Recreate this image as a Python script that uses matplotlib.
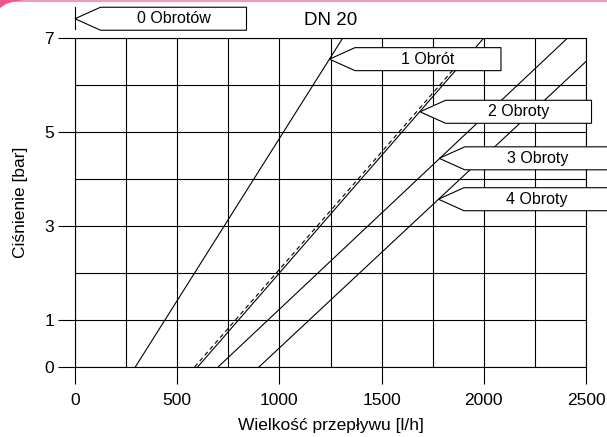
import matplotlib
matplotlib.use("Agg")
import matplotlib.pyplot as plt
from matplotlib.patches import Polygon, Rectangle

plt.rcParams['font.family'] = ['Liberation Sans', 'DejaVu Sans']

# curves (flow l/h vs pressure bar)
flow_1 = [295, 1310]
pres_1 = [0, 7]
flow_2 = [600, 2000]
pres_2 = [0, 7]
flow_2_dash = [585, 1885]
pres_2_dash = [0, 6.5]
flow_3 = [700, 2410]
pres_3 = [0, 7]
flow_4 = [900, 2500]
pres_4 = [0, 6.5]

label_texts = ['0 Obrotów', '1 Obrót', '2 Obroty', '3 Obroty', '4 Obroty']
label_flow = [0, 1245, 1688, 1782, 1778]
label_pres = [7.41, 6.55, 5.43, 4.44, 3.57]

x_ticks = [0, 500, 1000, 1500, 2000, 2500]
x_minor = [250, 750, 1250, 1750, 2250]
y_ticks = [0, 1, 3, 5, 7]
y_minor = [2, 4, 6]

fig = plt.figure(figsize=(6.07, 4.37), dpi=100)
ax = fig.add_axes([75 / 607, 70 / 437, 511 / 607, 329 / 437])

ax.set_xlim(0, 2500)
ax.set_ylim(0, 7)
ax.set_xticks(x_ticks)
ax.set_xticks(x_minor, minor=True)
ax.set_yticks(y_ticks)
ax.set_yticks(y_minor, minor=True)
ax.tick_params(which='major', direction='out', length=12, width=0.8,
               labelsize=12.5, color='black')
ax.tick_params(axis='x', which='major', pad=7)
ax.tick_params(axis='y', which='major', pad=3)
ax.tick_params(which='minor', length=0)
ax.grid(True, which='both', color='black', linewidth=0.8)
for s in ax.spines.values():
    s.set_linewidth(0.8)

lw = 0.8
ax.plot(flow_1, pres_1, color='black', lw=lw)
ax.plot(flow_2, pres_2, color='black', lw=lw)
ax.plot(flow_2_dash, pres_2_dash, color='black', lw=lw, dashes=(4, 3))
ax.plot(flow_3, pres_3, color='black', lw=lw)
ax.plot(flow_4, pres_4, color='black', lw=lw)

ax.set_xlabel('Wielkość przepływu [l/h]', fontsize=12.5, labelpad=7)
ax.set_ylabel('Ciśnienie [bar]', fontsize=12.5, labelpad=12)
ax.text(1250, 7.38, 'DN 20', fontsize=13.5, ha='center', va='center')

# arrow shaped label boxes, drawn in pixel units from the tip
fig.canvas.draw()
for txt, fx, py in zip(label_texts, label_flow, label_pres):
    tx, ty = ax.transData.transform((fx, py))
    pts = [(tx, ty), (tx + 25.5, ty + 11.5), (tx + 171.5, ty + 11.5),
           (tx + 171.5, ty - 11.5), (tx + 25.5, ty - 11.5)]
    poly = Polygon(pts, closed=True, facecolor='white', edgecolor='black',
                   lw=0.8, transform=None, zorder=5, clip_on=False)
    fig.patches.append(poly)
    fig.text((tx + 98.5) / 607, ty / 437, txt, fontsize=11.5,
             ha='center', va='center', zorder=6)

# small bar marking the closed valve (0 turns)
x0, y0 = ax.transData.transform((0, 7.19))
x1, y1 = ax.transData.transform((0, 7.66))
fig.lines.append(plt.Line2D([x0 / 607, x1 / 607], [y0 / 437, y1 / 437],
                            color='black', lw=0.8, transform=fig.transFigure))

# pink strip along the top edge
fig.patches.append(Rectangle((0, 1 - 2 / 437), 1, 2 / 437, transform=fig.transFigure,
                             facecolor='#f29bb6', edgecolor='none'))
fig.patches.append(Polygon([(0, 437), (0, 429), (6, 433), (14, 435.5), (24, 437)],
                           closed=True, transform=None, facecolor='#e9578c',
                           edgecolor='none'))

fig.savefig('out.png', dpi=100)
